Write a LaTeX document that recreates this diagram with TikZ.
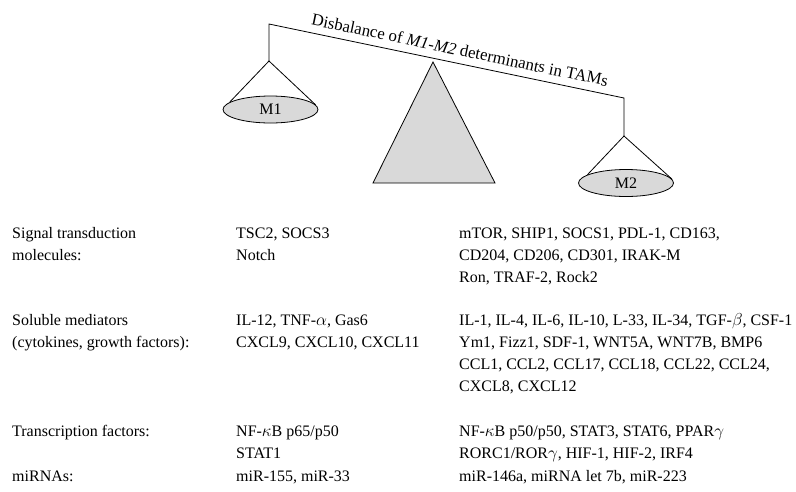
\documentclass[tikz,border=0pt]{standalone}
\usepackage{fontspec}
\setmainfont{Liberation Serif}
\usetikzlibrary{shapes.geometric}
\usetikzlibrary{calc}
\tikzstyle{pan}=[ellipse,draw,line width=0.8pt,fill=black!15,minimum width=95pt,minimum height=27pt,inner sep=0pt,font=\fontsize{16}{18}\selectfont]
\tikzstyle{rope}=[line width=0.8pt]
\tikzstyle{cell}=[anchor=base west,inner sep=0pt,font=\fontsize{16}{22}\selectfont]
\tikzstyle{beamlabel}=[font=\fontsize{16.8}{18}\selectfont]

\begin{document}
\begin{tikzpicture}[x=1pt,y=-1pt]
\useasboundingbox (0,0) rectangle (796,491);

%balance
    \coordinate (bl) at (269,24);
    \coordinate (br) at (624,98);
    \coordinate (hl) at (269,61);
    \coordinate (hr) at (624,136);
    \coordinate (tip) at (433,62);
    \coordinate (fl) at (373,183);
    \coordinate (fr) at (495,183);

    \draw[rope,fill=black!15] (tip) -- (fl) -- (fr) -- cycle;
    \draw[rope] (hl) -- (bl) -- node[beamlabel,pos=0.53,sloped,above=4pt] (title) {Disbalance of \textit{M1-M2} determinants in TAMs} (br) -- (hr);

    \node[pan] (m1) at (270.5,109.5) {M1};
    \node[pan] (m2) at (626,183) {M2};
    \draw[rope] (m1.170) -- (hl) -- (m1.6);
    \draw[rope] (m2.168) -- (hr) -- (m2.5);

%table
    \foreach \x/\y/\name/\txt in {12/238/sig1/{Signal transduction}, 12/260/sig2/{molecules:},
        12/325/sol1/{Soluble mediators}, 12/347/sol2/{(cytokines, growth factors):},
        12/436/tf1/{Transcription factors:}, 12/481/mir1/{miRNAs:}}
        \node[cell] (\name) at (\x,\y) {\txt};

    \foreach \x/\y/\name/\txt in {236/238/ma1/{TSC2, SOCS3}, 236/260/ma2/{Notch},
        236/325/mb1/{IL-12, TNF-$\alpha$, Gas6}, 236/347/mb2/{CXCL9, CXCL10, CXCL11},
        236/436/mc1/{NF-$\kappa$B p65/p50}, 236/458/mc2/{STAT1},
        236/481/md1/{miR-155, miR-33}}
        \node[cell] (\name) at (\x,\y) {\txt};

    \foreach \x/\y/\name/\txt in {459/238/ra1/{mTOR, SHIP1, SOCS1, PDL-1, CD163,},
        459/260/ra2/{CD204, CD206, CD301, IRAK-M}, 459/282/ra3/{Ron, TRAF-2, Rock2},
        459/325/rb1/{IL-1, IL-4, IL-6, IL-10, L-33, IL-34, TGF-$\beta$, CSF-1},
        459/347/rb2/{Ym1, Fizz1, SDF-1, WNT5A, WNT7B, BMP6},
        459/369/rb3/{CCL1, CCL2, CCL17, CCL18, CCL22, CCL24,},
        459/391/rb4/{CXCL8, CXCL12},
        459/436/rc1/{NF-$\kappa$B p50/p50, STAT3, STAT6, PPAR$\gamma$},
        459/458/rc2/{RORC1/ROR$\gamma$, HIF-1, HIF-2, IRF4},
        459/481/rd1/{miR-146a, miRNA let 7b, miR-223}}
        \node[cell] (\name) at (\x,\y) {\txt};

\end{tikzpicture}
\end{document}
